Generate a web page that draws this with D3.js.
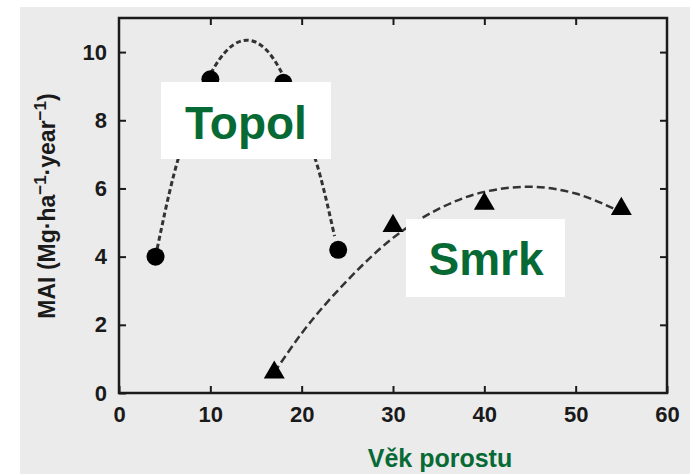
<!doctype html>
<html>
<head>
<meta charset="UTF-8">
<title>MAI - Topol, Smrk</title>
<script src="https://d3js.org/d3.v7.min.js"></script>
<style>
  body { margin: 0; background: #fff; }
  svg { display: block; font-family: "Liberation Sans", Arial, sans-serif; }
</style>
</head>
<body>
<svg id="chart" width="690" height="474"></svg>
<script>
// measured points
var topolAge = [4, 10, 18, 24];
var topolMai = [4.0, 9.2, 9.1, 4.2];
var smrkAge = [17, 30, 40, 55];
var smrkMai = [0.6, 4.9, 5.55, 5.4];

// dashed fitted curves
var topolCurveAge = [4, 6, 8, 10, 12, 14, 16, 18, 20, 22, 23.6];
var topolCurveMai = [4.0, 6.4, 8.1, 9.35, 10.1, 10.35, 10.1, 9.3, 8.0, 6.4, 4.6];
var smrkCurveAge = [17, 20, 25, 30, 35, 40, 45, 50, 55];
var smrkCurveMai = [0.6, 1.75, 3.3, 4.55, 5.4, 5.9, 6.05, 5.85, 5.3];

var xTicks = [0, 10, 20, 30, 40, 50, 60];
var yTicks = [0, 2, 4, 6, 8, 10];

var svg = d3.select("#chart");
var green = "#076a35";

// grey picture background
svg.append("rect")
   .attr("x", 20).attr("y", 7)
   .attr("width", 670).attr("height", 467)
   .attr("fill", "#ebebeb");

var x = d3.scaleLinear().domain([0, 60]).range([119, 667]);
var y = d3.scaleLinear().domain([0, 11]).range([393, 18]);

// axes, ticks point inward
function styleAxis(g){
    g.select(".domain").remove();
    g.selectAll(".tick line").attr("stroke", "#1a1a1a").attr("stroke-width", 2);
    g.selectAll(".tick text")
     .attr("fill", "#1a1a1a")
     .style("font-size", "22px")
     .style("font-weight", "bold");
}

svg.append("g")
   .attr("transform", "translate(0," + y(0) + ")")
   .call(d3.axisBottom(x).tickValues(xTicks).tickSize(-7).tickPadding(13))
   .call(styleAxis);

svg.append("g")
   .attr("transform", "translate(" + x(0) + ",0)")
   .call(d3.axisLeft(y).tickValues(yTicks).tickSize(-7).tickPadding(12))
   .call(styleAxis);

svg.append("g")
   .attr("transform", "translate(0," + y(11) + ")")
   .call(d3.axisTop(x).tickValues(xTicks.slice(1, -1)).tickSize(-7).tickFormat(""))
   .call(styleAxis);

svg.append("g")
   .attr("transform", "translate(" + x(60) + ",0)")
   .call(d3.axisRight(y).tickValues(yTicks.slice(1)).tickSize(-7).tickFormat(""))
   .call(styleAxis);

// frame
svg.append("rect")
   .attr("x", x(0)).attr("y", y(11))
   .attr("width", x(60) - x(0)).attr("height", y(0) - y(11))
   .attr("fill", "none")
   .attr("stroke", "#1a1a1a")
   .attr("stroke-width", 2.5);

var line = d3.line()
    .x(function(d){ return x(d[0]); })
    .y(function(d){ return y(d[1]); })
    .curve(d3.curveMonotoneX);

svg.append("path")
   .attr("d", line(d3.zip(topolCurveAge, topolCurveMai)))
   .attr("fill", "none")
   .attr("stroke", "#333")
   .attr("stroke-width", 3)
   .attr("stroke-dasharray", "5,3");

svg.append("path")
   .attr("d", line(d3.zip(smrkCurveAge, smrkCurveMai)))
   .attr("fill", "none")
   .attr("stroke", "#333")
   .attr("stroke-width", 2.5)
   .attr("stroke-dasharray", "8,4");

svg.selectAll("circle.topol")
   .data(d3.zip(topolAge, topolMai))
   .enter().append("circle")
   .attr("class", "topol")
   .attr("cx", function(d){ return x(d[0]); })
   .attr("cy", function(d){ return y(d[1]); })
   .attr("r", 9)
   .attr("fill", "#000");

var tri = d3.symbol().type(d3.symbolTriangle).size(190);
svg.selectAll("path.smrk")
   .data(d3.zip(smrkAge, smrkMai))
   .enter().append("path")
   .attr("class", "smrk")
   .attr("d", tri)
   .attr("transform", function(d){ return "translate(" + x(d[0]) + "," + y(d[1]) + ")"; })
   .attr("fill", "#000");

// white label boxes
svg.append("rect").attr("x", 161).attr("y", 82).attr("width", 170).attr("height", 77).attr("fill", "#fff");
svg.append("text").attr("x", 246).attr("y", 139)
   .attr("text-anchor", "middle")
   .attr("fill", green)
   .style("font-size", "46px").style("font-weight", "bold")
   .text("Topol");

svg.append("rect").attr("x", 406).attr("y", 219).attr("width", 159).attr("height", 78).attr("fill", "#fff");
svg.append("text").attr("x", 486).attr("y", 275)
   .attr("text-anchor", "middle")
   .attr("fill", green)
   .style("font-size", "46px").style("font-weight", "bold")
   .text("Smrk");

// axis titles
svg.append("text")
   .attr("x", 440).attr("y", 467)
   .attr("text-anchor", "middle")
   .attr("fill", green)
   .style("font-size", "25px").style("font-weight", "bold")
   .text("Věk porostu");

var yl = svg.append("text")
   .attr("transform", "translate(55,206) rotate(-90)")
   .attr("text-anchor", "middle")
   .attr("fill", "#1a1a1a")
   .style("font-size", "23px").style("font-weight", "bold");
yl.append("tspan").text("MAI (Mg·ha");
yl.append("tspan").attr("dy", -9).style("font-size", "17px").text("−1");
yl.append("tspan").attr("dy", 9).text("·year");
yl.append("tspan").attr("dy", -9).style("font-size", "17px").text("−1");
yl.append("tspan").attr("dy", 9).text(")");
</script>
</body>
</html>
